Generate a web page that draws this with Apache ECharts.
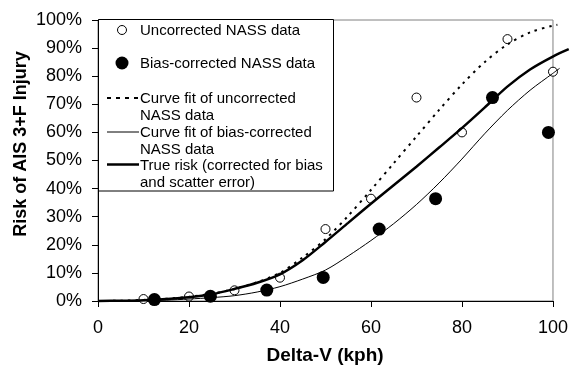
<!DOCTYPE html>
<html>
<head>
<meta charset="utf-8">
<script src="https://cdn.jsdelivr.net/npm/echarts@6/dist/echarts.min.js"></script>
<style>
html,body{margin:0;padding:0;background:#fff;}
#c{width:571px;height:376px;}
</style>
</head>
<body>
<div id="c"></div>
<script>
// Data
const uncorrX = [10, 20, 30, 40, 50, 60, 70, 80, 90, 100];
const uncorrY = [0.7, 1.6, 3.8, 8.3, 25.6, 36.4, 72.4, 60.0, 93.2, 81.6];
const corrX = [12.4, 24.7, 37.1, 49.5, 61.8, 74.2, 86.7, 99.0];
const corrY = [0.5, 1.7, 3.9, 8.4, 25.6, 36.4, 72.4, 60.0];

const fitUncorrX = [0, 5, 10, 15, 20, 25, 30, 35, 40, 45, 50, 55, 60, 65, 70, 75, 80, 85, 90, 95, 100, 101];
const fitUncorrY = [0, 0.1, 0.4, 0.8, 1.5, 2.6, 4.3, 6.7, 10, 15.5, 22, 30.3, 39.5, 49, 58.5, 68, 77, 85, 91.3, 95.6, 98, 98.3];

const fitCorrX = [0, 5, 10, 15, 20, 25, 30, 35, 40, 45, 50, 55, 60, 65, 70, 75, 80, 85, 90, 95, 100, 101.5];
const fitCorrY = [0, 0.05, 0.1, 0.3, 0.7, 1.2, 1.9, 3.2, 5.1, 7.8, 11, 16, 21.5, 27.5, 34.3, 42, 50.5, 59.5, 67.8, 75, 81, 82.8];

const trueX = [0, 5, 10, 15, 20, 25, 30, 35, 40, 45, 50, 55, 60, 65, 70, 75, 80, 85, 90, 95, 100, 103.5];
const trueY = [0, 0.1, 0.3, 0.7, 1.3, 2.4, 4.3, 6.5, 9.5, 14.5, 21, 27.8, 34.6, 41.2, 47.8, 54.6, 61.5, 68.8, 76.3, 82.4, 87, 89.6];

const legendLabels = [
  'Uncorrected NASS data',
  'Bias-corrected NASS data',
  'Curve fit of uncorrected\nNASS data',
  'Curve fit of bias-corrected\nNASS data',
  'True risk (corrected for bias\nand scatter error)'
];
const xTitle = 'Delta-V (kph)';
const yTitle = 'Risk of AIS 3+F Injury';

const FONT = '"Liberation Sans", Arial, sans-serif';
const zip = (xs, ys) => xs.map((x, i) => [x, ys[i]]);

const chart = echarts.init(document.getElementById('c'), null, {renderer: 'canvas'});

function legendText(txt, y) {
  return {
    type: 'text', z: 101, x: 140, y: y,
    style: {text: txt, font: '15px ' + FONT, fill: '#000', verticalAlign: 'top', lineHeight: 17}
  };
}

// Plot area: x 0..100 spans 455 px starting at left 98.
// A second, hidden grid with the same scale lets the fitted curves run past x = 100 as in the reference.
const PX_PER_UNIT = 455 / 100;
const EXT_MAX = 104;

const option = {
  animation: false,
  backgroundColor: '#fff',
  grid: [
    {left: 98, right: 18, top: 20, bottom: 75, show: true, borderColor: '#808080', borderWidth: 1, backgroundColor: 'transparent'},
    {left: 98, width: EXT_MAX * PX_PER_UNIT, top: 20, bottom: 75, show: false}
  ],
  xAxis: [
    {
      gridIndex: 0, type: 'value', min: 0, max: 100, interval: 20,
      axisLine: {show: true, onZero: false, lineStyle: {color: '#000', width: 1}},
      axisTick: {show: true, length: 6, lineStyle: {color: '#000'}},
      axisLabel: {fontSize: 18, color: '#000', fontFamily: FONT, margin: 18},
      splitLine: {show: false}
    },
    {gridIndex: 1, type: 'value', min: 0, max: EXT_MAX, show: false, splitLine: {show: false}}
  ],
  yAxis: [
    {
      gridIndex: 0, type: 'value', min: 0, max: 100, interval: 10,
      axisLine: {show: true, lineStyle: {color: '#000', width: 1}},
      axisTick: {show: true, length: 6, lineStyle: {color: '#000'}},
      axisLabel: {fontSize: 18, color: '#000', fontFamily: FONT, margin: 16, formatter: v => v + '%'},
      splitLine: {show: false}
    },
    {gridIndex: 1, type: 'value', min: 0, max: 100, show: false, splitLine: {show: false}}
  ],
  series: [
    {
      name: legendLabels[0], type: 'scatter', data: zip(uncorrX, uncorrY), symbol: 'circle', symbolSize: 9,
      itemStyle: {color: '#fff', borderColor: '#000', borderWidth: 1, opacity: 1}, z: 2
    },
    {
      name: legendLabels[1], type: 'scatter', data: zip(corrX, corrY), symbol: 'circle', symbolSize: 13,
      itemStyle: {color: '#000', opacity: 1}, z: 2
    },
    {
      name: legendLabels[2], type: 'line', xAxisIndex: 1, yAxisIndex: 1, data: zip(fitUncorrX, fitUncorrY),
      smooth: 0.3, showSymbol: false, symbol: 'none', clip: false,
      lineStyle: {color: '#000', width: 2, type: [2.5, 5]}, z: 3
    },
    {
      name: legendLabels[3], type: 'line', xAxisIndex: 1, yAxisIndex: 1, data: zip(fitCorrX, fitCorrY),
      smooth: 0.3, showSymbol: false, symbol: 'none', clip: false,
      lineStyle: {color: '#000', width: 1}, z: 3
    },
    {
      name: legendLabels[4], type: 'line', xAxisIndex: 1, yAxisIndex: 1, data: zip(trueX, trueY),
      smooth: 0.3, showSymbol: false, symbol: 'none', clip: false,
      lineStyle: {color: '#000', width: 2.5}, z: 3
    }
  ],
  graphic: [
    // axis titles
    {type: 'text', z: 100, x: 325, y: 356,
     style: {text: xTitle, font: 'bold 19px ' + FONT, fill: '#000', align: 'center', verticalAlign: 'middle'}},
    {type: 'text', z: 100, x: 21, y: 144, rotation: Math.PI / 2,
     style: {text: yTitle, font: 'bold 18px ' + FONT, fill: '#000', align: 'center', verticalAlign: 'middle'}},
    // legend box
    {type: 'rect', z: 100, shape: {x: 98.5, y: 19.5, width: 235, height: 171.5},
     style: {fill: '#fff', stroke: '#000', lineWidth: 1}},
    {type: 'circle', z: 101, shape: {cx: 122, cy: 30, r: 4.5}, style: {fill: '#fff', stroke: '#000', lineWidth: 1}},
    {type: 'circle', z: 101, shape: {cx: 122, cy: 63, r: 6.5}, style: {fill: '#000'}},
    {type: 'line', z: 101, shape: {x1: 107, y1: 98, x2: 139, y2: 98}, style: {stroke: '#000', lineWidth: 2, lineDash: [4, 5]}},
    {type: 'line', z: 101, shape: {x1: 107, y1: 132, x2: 139, y2: 132}, style: {stroke: '#000', lineWidth: 1}},
    {type: 'line', z: 101, shape: {x1: 107, y1: 164.5, x2: 139, y2: 164.5}, style: {stroke: '#000', lineWidth: 2.5}},
    legendText(legendLabels[0], 22),
    legendText(legendLabels[1], 55),
    legendText(legendLabels[2], 90),
    legendText(legendLabels[3], 124),
    legendText(legendLabels[4], 157)
  ]
};
chart.setOption(option);
</script>
</body>
</html>
